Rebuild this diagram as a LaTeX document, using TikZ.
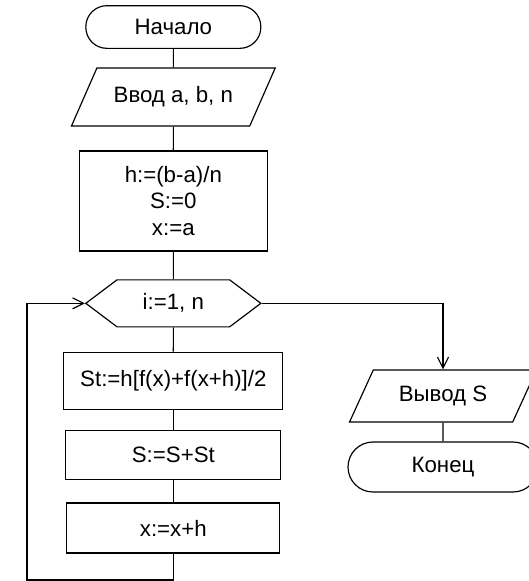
\documentclass[tikz,border=0pt]{standalone}
\usepackage{fontspec}
\setmainfont{Liberation Sans}
\usepackage{tikz}
\usetikzlibrary{shapes.geometric,shapes.symbols,arrows.meta,positioning,calc}

\begin{document}
\begin{tikzpicture}[
  every node/.style={font=\fontsize{19}{23}\selectfont, align=center, inner sep=0pt},
  term/.style={rectangle, draw, line width=1pt, rounded corners=6.3mm},
  io/.style={trapezium, draw, line width=1pt, trapezium stretches=true},
  proc/.style={rectangle, draw, line width=1pt},
  loopbox/.style={signal, draw, line width=1pt, signal to=east and west, signal pointer angle=74},
  rel/.style={line width=1pt},
  arr/.style={rel, -{Straight Barb[length=3.3mm, width=3.3mm, line width=1pt]}}
]
\useasboundingbox (0,0) rectangle (15.84,-17.43);

% Main column
\node[term, minimum width=5.25cm, minimum height=1.28cm] (start) at (5.2, -0.81) {Начало};
\node[io, trapezium left angle=46, trapezium right angle=134, minimum width=6.12cm, minimum height=1.74cm] (input) at (5.2, -2.91) {Ввод a, b, n};
\node[proc, minimum width=5.64cm, minimum height=3.0cm] (init) at (5.2, -6.03) {h:=(b-a)/n\\S:=0\\x:=a};
% Loop
\node[loopbox, minimum width=5.25cm, minimum height=1.41cm] (loop) at (5.2, -9.1) {i:=1, n};
\node[proc, minimum width=6.57cm, minimum height=1.71cm] (st) at (5.2, -11.42) {St:=h[f(x)+f(x+h)]/2};
\node[proc, minimum width=6.45cm, minimum height=1.47cm] (sadd) at (5.2, -13.64) {S:=S+St};
\node[proc, minimum width=6.39cm, minimum height=1.5cm] (xadd) at (5.2, -15.84) {x:=x+h};
\coordinate (back) at (0.81, -17.4);
% Output branch
\node[io, trapezium left angle=53, trapezium right angle=127, minimum width=5.61cm, minimum height=1.56cm] (out) at (13.29, -11.88) {Вывод S};
\node[term, rounded corners=7.5mm, minimum width=5.7cm, minimum height=1.5cm] (stop) at (13.29, -14.01) {Конец};

% Connectors
\draw[rel] (start) -- (input);
\draw[rel] (input) -- (init);
\draw[rel] (init) -- (loop);
\draw[rel] (loop) -- (st);
\draw[rel] (st) -- (sadd);
\draw[rel] (sadd) -- (xadd);
\draw[arr] (xadd.south) |- (back) |- (loop.west);
\draw[arr] (loop.east) -| (out.north);
\draw[rel] (out) -- (stop);

\end{tikzpicture}
\end{document}
